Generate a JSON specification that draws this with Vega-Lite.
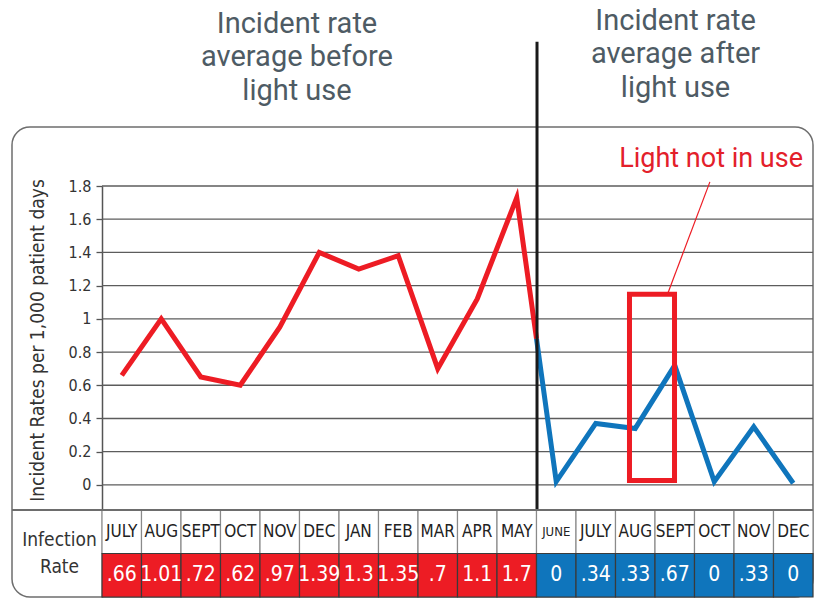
{
  "$schema": "https://vega.github.io/schema/vega-lite/v6.json",
  "width": 801,
  "height": 470,
  "autosize": {"type": "none"},
  "padding": {"left": 12, "top": 127, "right": 6, "bottom": 1},
  "background": "white",
  "view": {"stroke": "#6e6e6e", "strokeWidth": 1.5, "cornerRadius": 18},
  "config": {
    "font": "Liberation Sans Narrow, DejaVu Sans Condensed, Roboto, sans-serif"
  },
  "datasets": {
    "grid": [{"v": 0}, {"v": 0.2}, {"v": 0.4}, {"v": 0.6}, {"v": 0.8}, {"v": 1}, {"v": 1.2}, {"v": 1.4}, {"v": 1.6}, {"v": 1.8}],
    "lines": [
      {"i": 0, "rate": 0.66, "period": "before"},
      {"i": 1, "rate": 1.0, "period": "before"},
      {"i": 2, "rate": 0.65, "period": "before"},
      {"i": 3, "rate": 0.6, "period": "before"},
      {"i": 4, "rate": 0.95, "period": "before"},
      {"i": 5, "rate": 1.4, "period": "before"},
      {"i": 6, "rate": 1.3, "period": "before"},
      {"i": 7, "rate": 1.38, "period": "before"},
      {"i": 8, "rate": 0.7, "period": "before"},
      {"i": 9, "rate": 1.12, "period": "before"},
      {"i": 10, "rate": 1.73, "period": "before"},
      {"i": 10.5, "rate": 0.88, "period": "before"},
      {"i": 10.5, "rate": 0.88, "period": "after"},
      {"i": 11, "rate": 0.02, "period": "after"},
      {"i": 12, "rate": 0.37, "period": "after"},
      {"i": 13, "rate": 0.34, "period": "after"},
      {"i": 14, "rate": 0.72, "period": "after"},
      {"i": 15, "rate": 0.02, "period": "after"},
      {"i": 16, "rate": 0.35, "period": "after"},
      {"i": 17, "rate": 0.01, "period": "after"}
    ],
    "table": [
      {"i": 0, "month": "JULY", "label": ".66", "period": "before"},
      {"i": 1, "month": "AUG", "label": "1.01", "period": "before"},
      {"i": 2, "month": "SEPT", "label": ".72", "period": "before"},
      {"i": 3, "month": "OCT", "label": ".62", "period": "before"},
      {"i": 4, "month": "NOV", "label": ".97", "period": "before"},
      {"i": 5, "month": "DEC", "label": "1.39", "period": "before"},
      {"i": 6, "month": "JAN", "label": "1.3", "period": "before"},
      {"i": 7, "month": "FEB", "label": "1.35", "period": "before"},
      {"i": 8, "month": "MAR", "label": ".7", "period": "before"},
      {"i": 9, "month": "APR", "label": "1.1", "period": "before"},
      {"i": 10, "month": "MAY", "label": "1.7", "period": "before"},
      {"i": 11, "month": "JUNE", "label": "0", "period": "after"},
      {"i": 12, "month": "JULY", "label": ".34", "period": "after"},
      {"i": 13, "month": "AUG", "label": ".33", "period": "after"},
      {"i": 14, "month": "SEPT", "label": ".67", "period": "after"},
      {"i": 15, "month": "OCT", "label": "0", "period": "after"},
      {"i": 16, "month": "NOV", "label": ".33", "period": "after"},
      {"i": 17, "month": "DEC", "label": "0", "period": "after"}
    ]
  },
  "layer": [
    {
      "layer": [
        {
          "data": {"name": "grid"},
          "mark": {"type": "rule", "color": "#5c5c5c", "strokeWidth": 1.3},
          "encoding": {
            "x": {"datum": -0.5, "type": "quantitative", "scale": {"domain": [-2.7785, 17.5], "nice": false, "zero": false}, "axis": null},
            "x2": {"datum": 17.5},
            "y": {
              "field": "v",
              "type": "quantitative",
              "scale": {"domain": [-0.675, 1.8], "range": [470, 59], "nice": false, "zero": false},
              "title": "Incident Rates per 1,000 patient days",
              "axis": {
                "values": [0, 0.2, 0.4, 0.6, 0.8, 1, 1.2, 1.4, 1.6, 1.8],
                "format": "~g",
                "offset": -90,
                "grid": false,
                "tickSize": 6,
                "tickColor": "#555555",
                "tickWidth": 1.3,
                "domainColor": "#555555",
                "domainWidth": 1.5,
                "labelPadding": 5,
                "labelFontSize": 16,
                "labelColor": "#333333",
                "titleFontSize": 19,
                "titleFontWeight": "normal",
                "titleColor": "#333333",
                "titleY": 213,
                "titleX": -55
              }
            }
          }
        },
        {
          "data": {"name": "lines"},
          "mark": {"type": "line", "strokeWidth": 5, "strokeJoin": "miter", "strokeCap": "butt"},
          "encoding": {
            "x": {"field": "i", "type": "quantitative", "axis": null},
            "y": {"field": "rate", "type": "quantitative", "title": "Incident Rates per 1,000 patient days"},
            "color": {"field": "period", "type": "nominal", "scale": {"domain": ["before", "after"], "range": ["#ed1c24", "#0f75bc"]}, "legend": null}
          }
        },
        {
          "data": {"values": [{}]},
          "mark": {"type": "rect", "filled": false, "stroke": "#ed1c24", "strokeWidth": 5},
          "encoding": {
            "x": {"datum": 12.854, "type": "quantitative", "axis": null},
            "x2": {"datum": 13.994},
            "y": {"datum": 1.148, "type": "quantitative"},
            "y2": {"datum": 0.027}
          }
        },
        {
          "data": {"values": [{}]},
          "mark": {"type": "rule", "color": "#ed1c24", "strokeWidth": 1.2},
          "encoding": {
            "x": {"datum": 13.83, "type": "quantitative", "axis": null},
            "x2": {"datum": 14.89},
            "y": {"datum": 1.157, "type": "quantitative"},
            "y2": {"datum": 1.825}
          }
        },
        {
          "data": {"values": [{}]},
          "mark": {"type": "text", "text": "Light not in use", "font": "Roboto", "fontSize": 27, "color": "#e3202a", "align": "right", "baseline": "alphabetic"},
          "encoding": {
            "x": {"datum": 17.247, "type": "quantitative", "axis": null},
            "y": {"datum": 1.916, "type": "quantitative"}
          }
        },
        {
          "data": {"values": [{}]},
          "mark": {"type": "rule", "color": "#1a1a1a", "strokeWidth": 3},
          "encoding": {
            "x": {"datum": 10.513, "type": "quantitative", "axis": null},
            "y": {"datum": 2.669, "type": "quantitative"},
            "y2": {"datum": -0.675}
          }
        },
        {
          "data": {"values": [{}]},
          "mark": {"type": "text", "text": ["Incident rate", "average before", "light use"], "font": "Roboto", "fontSize": 29, "lineHeight": 33.5, "color": "#4e5b64", "align": "center", "baseline": "alphabetic"},
          "encoding": {
            "x": {"datum": 4.437, "type": "quantitative", "axis": null},
            "y": {"datum": 2.723, "type": "quantitative"}
          }
        },
        {
          "data": {"values": [{}]},
          "mark": {"type": "text", "text": ["Incident rate", "average after", "light use"], "font": "Roboto", "fontSize": 29, "lineHeight": 33.5, "color": "#4e5b64", "align": "center", "baseline": "alphabetic"},
          "encoding": {
            "x": {"datum": 14.02, "type": "quantitative", "axis": null},
            "y": {"datum": 2.741, "type": "quantitative"}
          }
        },
        {
          "data": {"values": [{}]},
          "mark": {"type": "text", "text": ["Infection", "Rate"], "fontSize": 19, "lineHeight": 27, "color": "#333333", "align": "center", "baseline": "middle"},
          "encoding": {
            "x": {"datum": -1.576, "type": "quantitative", "axis": null},
            "y": {"datum": -0.333, "type": "quantitative"}
          }
        }
      ]
    },
    {
      "data": {"name": "table"},
      "layer": [
        {
          "mark": {"type": "rect", "fill": "white", "stroke": "#8a8a8a", "strokeWidth": 1.2},
          "encoding": {
            "x": {"field": "i", "type": "ordinal", "scale": {"range": [90, 801], "paddingInner": 0, "paddingOuter": 0}, "axis": null},
            "y": {"datum": "month", "type": "ordinal", "scale": {"domain": ["month", "rate"], "range": [383, 470], "paddingInner": 0, "paddingOuter": 0}, "axis": null}
          }
        },
        {
          "mark": {"type": "rect", "stroke": "#3a3a3a", "strokeWidth": 1.2},
          "encoding": {
            "x": {"field": "i", "type": "ordinal", "axis": null},
            "y": {"datum": "rate", "type": "ordinal", "axis": null},
            "fill": {"field": "period", "type": "nominal", "scale": {"domain": ["before", "after"], "range": ["#ed1c24", "#0f75bc"]}, "legend": null}
          }
        },
        {
          "mark": {"type": "rule", "color": "#6e6e6e", "strokeWidth": 1.5},
          "encoding": {
            "y": {"datum": "month", "type": "ordinal", "bandPosition": 0, "axis": null}
          }
        },
        {
          "mark": {"type": "text", "color": "#222222", "baseline": "middle"},
          "encoding": {
            "x": {"field": "i", "type": "ordinal", "axis": null},
            "y": {"datum": "month", "type": "ordinal", "axis": null},
            "text": {"field": "month"},
            "size": {"condition": {"test": "datum.month === 'JUNE'", "value": 13}, "value": 17}
          }
        },
        {
          "mark": {"type": "text", "color": "white", "fontSize": 21, "baseline": "middle"},
          "encoding": {
            "x": {"field": "i", "type": "ordinal", "axis": null},
            "y": {"datum": "rate", "type": "ordinal", "axis": null},
            "text": {"field": "label"}
          }
        }
      ]
    }
  ],
  "resolve": {"scale": {"x": "independent", "y": "independent"}}
}
